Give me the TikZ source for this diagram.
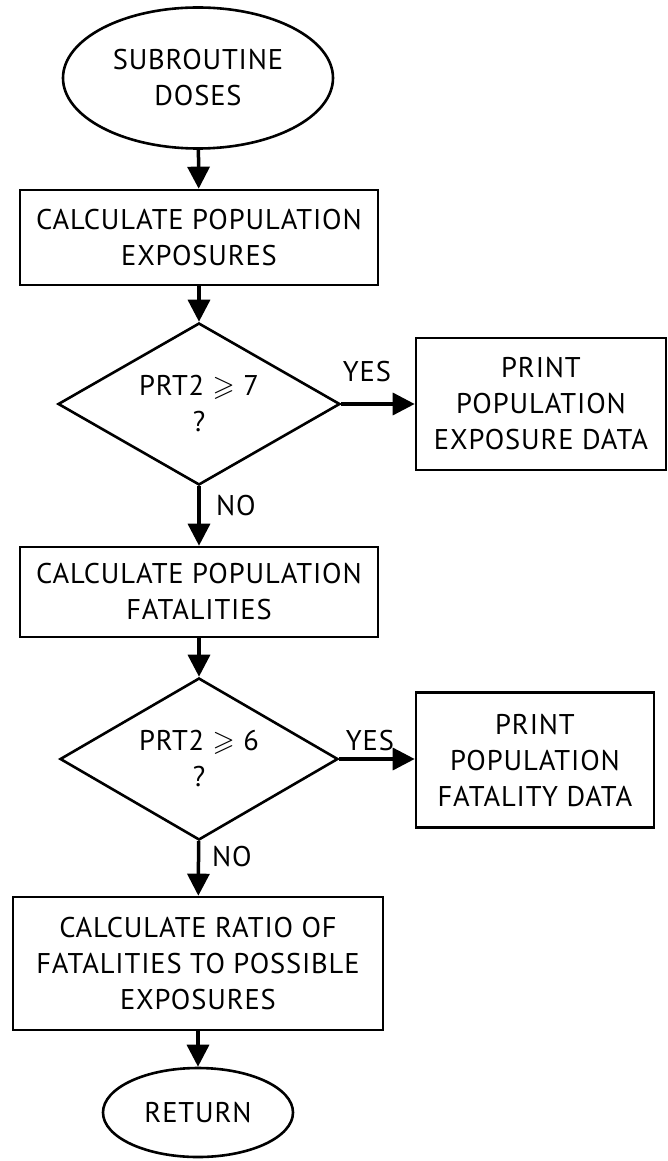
\documentclass[tikz,border=0pt]{standalone}
\usepackage{amssymb}
\usepackage{fontspec}
\setmainfont[LetterSpace=3]{PT Sans}
\usetikzlibrary{shapes.geometric,arrows.meta}
\tikzset{
  lbl/.style={font=\fontsize{28.5}{36}\selectfont, align=center, inner sep=0pt},
  termnode/.style={lbl, draw, line width=2.6pt, ellipse},
  procbox/.style={lbl, draw, line width=2.6pt, rectangle},
  decnode/.style={lbl, draw, line width=2.6pt, diamond, shape aspect=1.74},
  flow/.style={line width=3.5pt, -{Triangle[length=22pt,width=22pt]}},
}
\begin{document}
\begin{tikzpicture}[x=1pt,y=-1pt]
\useasboundingbox (0,0) rectangle (668,1161);
\node[termnode, minimum width=270pt, minimum height=141pt] (start) at (198,78) {SUBROUTINE\\DOSES};
\node[procbox, minimum width=358pt, minimum height=95pt] (box1) at (199,237.5) {CALCULATE POPULATION\\EXPOSURES};
\node[decnode, minimum width=282pt, minimum height=162pt] (dia1) at (199,404) {PRT2 $\geqslant$ 7\\?};
\node[procbox, minimum width=250pt, minimum height=132pt] (pbox1) at (541,404) {PRINT\\POPULATION\\EXPOSURE DATA};
\node[lbl] (yes1) at (367,372) {YES};
\node[lbl] (no1) at (236,506) {NO};
\node[procbox, minimum width=358pt, minimum height=90pt] (box2) at (199,592) {CALCULATE POPULATION\\FATALITIES};
\node[decnode, minimum width=278pt, minimum height=162pt] (dia2) at (199,759) {PRT2 $\geqslant$ 6\\?};
\node[procbox, minimum width=238pt, minimum height=135pt] (pbox2) at (535,760) {PRINT\\POPULATION\\FATALITY DATA};
\node[lbl] (yes2) at (370,741) {YES};
\node[lbl] (no2) at (232,857) {NO};
\node[procbox, minimum width=370pt, minimum height=133pt] (box3) at (198,963.5) {CALCULATE RATIO OF\\FATALITIES TO POSSIBLE\\EXPOSURES};
\node[termnode, minimum width=190pt, minimum height=89pt] (ret) at (198,1112.5) {RETURN};
\draw[flow] (start) -- (box1);
\draw[flow] (box1) -- (dia1);
\draw[flow] (dia1.east) -- (dia1.east -| pbox1.west);
\draw[flow] (dia1) -- (box2);
\draw[flow] (box2) -- (dia2);
\draw[flow] (dia2.east) -- (dia2.east -| pbox2.west);
\draw[flow] (dia2) -- (box3);
\draw[flow] (box3) -- (ret);
\end{tikzpicture}
\end{document}
